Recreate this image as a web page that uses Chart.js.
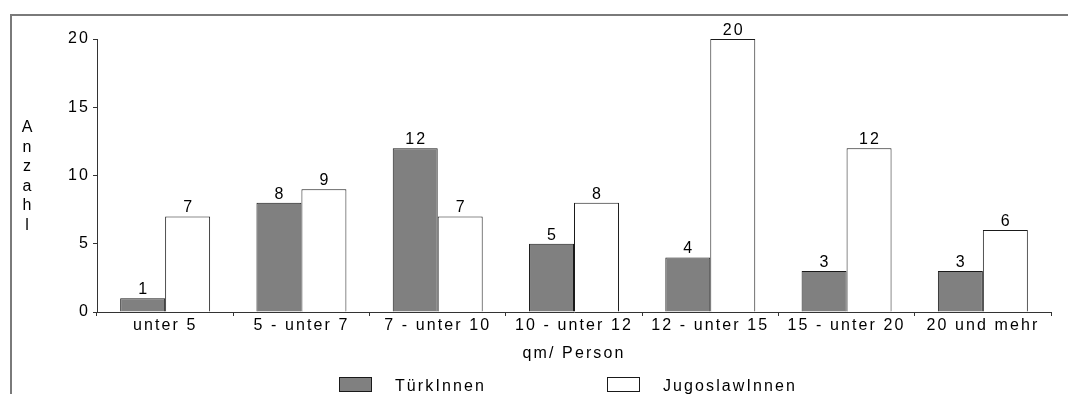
<!DOCTYPE html>
<html>
<head>
<meta charset="utf-8">
<script src="https://cdn.jsdelivr.net/npm/chart.js@4/dist/chart.umd.min.js"></script>
<style>
  html, body { margin: 0; padding: 0; background: #fff; }
  #wrap { width: 1068px; height: 394px; position: relative; }
</style>
</head>
<body>
<div id="wrap"><canvas id="c" width="1068" height="394"></canvas></div>
<script>
// Wohnfläche pro Person nach Herkunft
const categories = ['unter 5', '5 - unter 7', '7 - unter 10', '10 - unter 12', '12 - unter 15', '15 - unter 20', '20 und mehr'];
const tuerkinnen = [1, 8, 12, 5, 4, 3, 3];
const jugoslawinnen = [7, 9, 7, 8, 20, 12, 6];
const yTicks = [0, 5, 10, 15, 20];
const seriesNames = ['TürkInnen', 'JugoslawInnen'];
const yTitle = 'Anzahl';
const xTitle = 'qm/ Person';

const FONT = '"Liberation Sans", Arial, sans-serif';
const FS = 16;
const SPACING = '2.1px';

// wide letter spacing for all canvas text
const spacingPlugin = {
  id: 'spacing',
  beforeUpdate(chart) { chart.ctx.letterSpacing = SPACING; },
  beforeDraw(chart) { chart.ctx.letterSpacing = SPACING; }
};

// outer frame, value labels, stacked axis title and legend
const decorPlugin = {
  id: 'decor',
  beforeDraw(chart) {
    const ctx = chart.ctx;
    ctx.save();
    ctx.strokeStyle = '#7a7a7a';
    ctx.lineWidth = 2;
    ctx.beginPath();
    ctx.moveTo(chart.width, 15);
    ctx.lineTo(11, 15);
    ctx.lineTo(11, chart.height);
    ctx.stroke();
    ctx.restore();
  },
  afterDatasetsDraw(chart) {
    const ctx = chart.ctx;
    ctx.save();
    ctx.letterSpacing = SPACING;
    ctx.font = FS + 'px ' + FONT;
    ctx.fillStyle = '#000';
    ctx.textAlign = 'center';
    ctx.textBaseline = 'alphabetic';
    chart.data.datasets.forEach((ds, di) => {
      chart.getDatasetMeta(di).data.forEach((bar, i) => {
        ctx.fillText(String(ds.data[i]), bar.x + 1, bar.y - 4);
      });
    });
    ctx.restore();
  },
  afterDraw(chart) {
    const ctx = chart.ctx;
    ctx.save();
    ctx.font = FS + 'px ' + FONT;
    ctx.fillStyle = '#000';
    ctx.textAlign = 'center';
    ctx.textBaseline = 'alphabetic';
    ctx.letterSpacing = '0px';
    // vertical axis title, one letter per line
    const letters = yTitle.split('');
    letters.forEach((ch, i) => ctx.fillText(ch, 27, 132 + i * 19.6));

    // legend
    ctx.letterSpacing = SPACING;
    ctx.textAlign = 'left';
    ctx.textBaseline = 'middle';
    const legendX = [339, 607];
    chart.data.datasets.forEach((ds, di) => {
      const x = legendX[di];
      ctx.fillStyle = ds.backgroundColor;
      ctx.fillRect(x, 377, 33, 15);
      ctx.strokeStyle = ds.borderColor;
      ctx.lineWidth = 1;
      ctx.strokeRect(x + 0.5, 377.5, 32, 14);
      ctx.fillStyle = '#000';
      ctx.fillText(ds.label, x + 56, 386.5);
    });
    ctx.restore();
  }
};

new Chart(document.getElementById('c'), {
  type: 'bar',
  data: {
    labels: categories,
    datasets: [
      { label: seriesNames[0], data: tuerkinnen, backgroundColor: '#808080', borderColor: '#1a1a1a', borderWidth: 1 },
      { label: seriesNames[1], data: jugoslawinnen, backgroundColor: '#ffffff', borderColor: '#1a1a1a', borderWidth: 1 }
    ]
  },
  options: {
    responsive: false,
    animation: false,
    devicePixelRatio: 1,
    layout: { padding: { top: 39, right: 17, bottom: 30, left: 0 } },
    datasets: { bar: { categoryPercentage: 0.66, barPercentage: 1.0 } },
    plugins: {
      legend: { display: false },
      tooltip: { enabled: false }
    },
    scales: {
      x: {
        grid: { display: true, drawOnChartArea: false, offset: true, tickLength: 4, color: '#333' },
        border: { color: '#333', width: 1 },
        ticks: { color: '#000', font: { family: FONT, size: FS }, padding: 0, maxRotation: 0, autoSkip: false },
        title: { display: true, text: xTitle, color: '#000', font: { family: FONT, size: FS }, padding: { top: 0, bottom: 1 } },
        afterFit(scale) { scale.height = 52; }
      },
      y: {
        min: 0,
        max: 20,
        afterBuildTicks(scale) { scale.ticks = yTicks.map(v => ({ value: v })); },
        grid: { display: true, drawOnChartArea: false, tickLength: 4, color: '#333' },
        border: { color: '#333', width: 1 },
        ticks: { color: '#000', font: { family: FONT, size: FS }, padding: 3 },
        afterFit(scale) { scale.width = 97; }
      }
    }
  },
  plugins: [spacingPlugin, decorPlugin]
});
</script>
</body>
</html>
